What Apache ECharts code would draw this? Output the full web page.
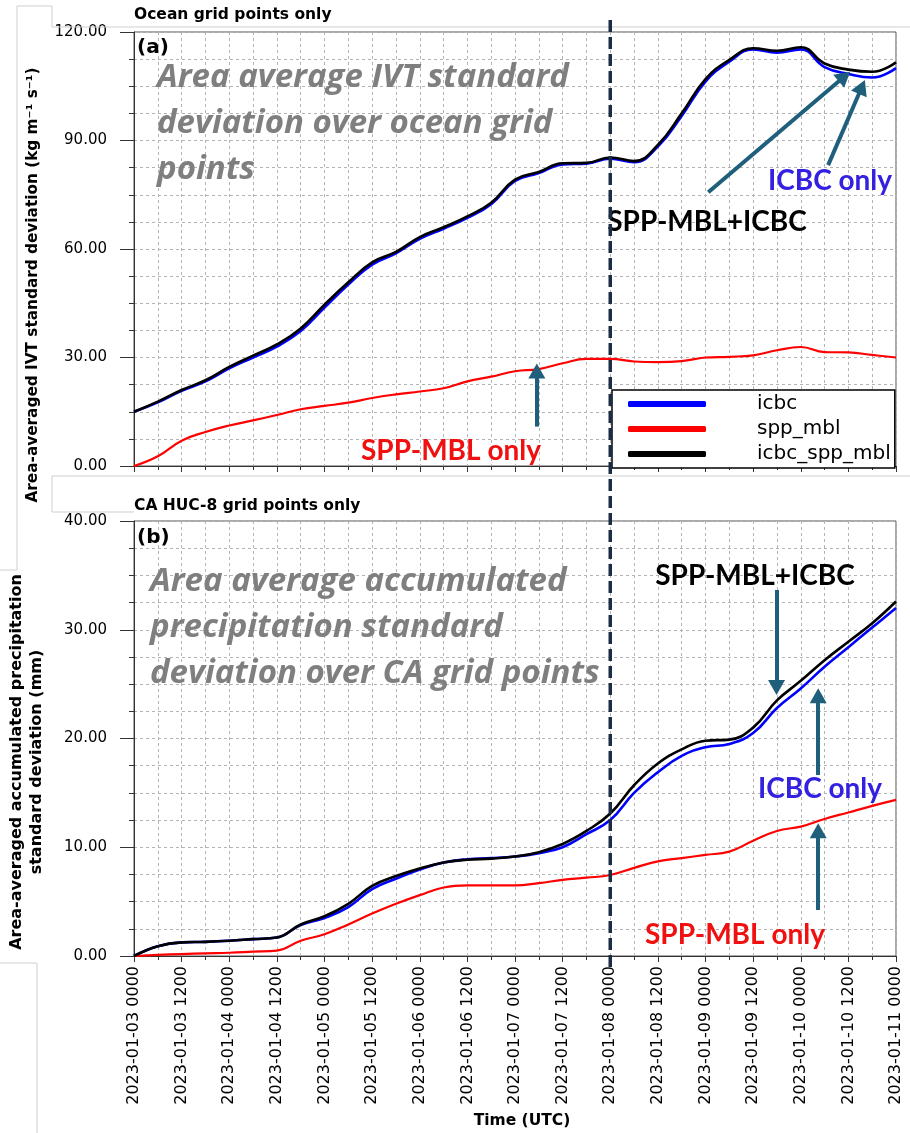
<!DOCTYPE html>
<html>
<head>
<meta charset="utf-8">
<script src="https://cdn.jsdelivr.net/npm/echarts@6/dist/echarts.min.js"></script>
<style>
html,body{margin:0;padding:0;background:#fff;}
#chart{width:910px;height:1133px;}
</style>
</head>
<body>
<div id="chart"></div>
<script>
// Forecast hours since 2023-01-03 00 UTC (6-hourly output)
const hours = [0,6,12,18,24,30,36,42,48,54,60,66,72,78,84,90,96,102,108,114,120,126,132,138,144,150,156,162,168,174,180,186,192];

// x tick labels every 12 h
const timeLabels = [
  '2023-01-03 0000','2023-01-03 1200','2023-01-04 0000','2023-01-04 1200',
  '2023-01-05 0000','2023-01-05 1200','2023-01-06 0000','2023-01-06 1200',
  '2023-01-07 0000','2023-01-07 1200','2023-01-08 0000','2023-01-08 1200',
  '2023-01-09 0000','2023-01-09 1200','2023-01-10 0000','2023-01-10 1200',
  '2023-01-11 0000'
];

// (a) area-averaged IVT standard deviation, ocean grid points (kg m-1 s-1)
const ivtIcbc = [15.0,17.6,20.8,23.4,27.0,30.0,33.0,37.3,43.8,50.2,55.7,58.8,62.8,65.6,68.6,72.4,78.8,81.0,83.4,83.6,85.0,84.0,88.3,96.8,106.3,111.8,115.2,114.3,115.2,110.3,108.4,107.4,110.0];
const ivtSppMbl = [0.0,2.7,7.0,9.4,11.2,12.6,14.1,15.7,16.6,17.5,18.8,19.8,20.6,21.5,23.4,24.7,26.2,26.8,28.4,29.6,29.6,28.9,28.7,29.0,30.0,30.2,30.6,32.0,32.9,31.5,31.4,30.7,30.0];
const ivtIcbcSppMbl = [15.0,17.8,21.0,23.7,27.4,30.5,33.6,38.0,44.6,50.8,56.3,59.2,63.3,66.0,69.0,72.8,79.2,81.3,83.7,83.8,85.3,84.3,88.8,97.5,107.0,112.3,115.5,114.8,115.8,111.3,109.6,109.0,111.6];

// (b) area-averaged accumulated precipitation standard deviation, CA HUC-8 grid points (mm)
const prIcbc = [0.0,0.9,1.25,1.3,1.4,1.55,1.7,2.85,3.5,4.5,6.15,7.1,7.95,8.6,8.9,9.0,9.15,9.45,10.0,11.2,12.5,15.0,16.9,18.4,19.2,19.5,20.5,22.8,24.6,26.6,28.4,30.2,32.0];
const prSppMbl = [0.0,0.1,0.18,0.25,0.3,0.4,0.5,1.4,2.0,2.9,3.9,4.8,5.6,6.3,6.5,6.5,6.5,6.7,7.0,7.2,7.45,8.1,8.7,9.0,9.3,9.6,10.6,11.5,11.9,12.6,13.2,13.8,14.35];
const prIcbcSppMbl = [0.0,0.9,1.25,1.3,1.4,1.55,1.7,2.9,3.65,4.8,6.45,7.35,8.05,8.6,8.85,8.95,9.15,9.55,10.3,11.5,13.1,15.7,17.7,19.0,19.8,19.9,21.0,23.5,25.3,27.2,28.9,30.6,32.6];

// Time of the vertical marker (2023-01-08 00 UTC)
const markerHour = 120;

// Annotation arrows: [[hour, value] tail, [hour, value] head]
const arrowsA = [
  [[144.7, 75.7], [179.0, 107.7]],
  [[174.9, 83.2], [183.4, 104.8]],
  [[101.5, 10.9], [101.5, 26.3]]
];
const arrowsB = [
  [[161.9, 33.66], [161.9, 24.69]],
  [[172.4, 16.64], [172.4, 23.93]],
  [[172.4, 4.23], [172.4, 11.51]]
];

const pair = (vals) => hours.map((h, i) => [h, vals[i]]);

const chart = echarts.init(document.getElementById('chart'), null, {renderer: 'canvas'});

const gridLine = {show: true, lineStyle: {color: '#b4b4b4', width: 1, type: [3, 3]}};
const axisInk = '#333';

function xAxisFor(gi, showLabels) {
  return {
    type: 'value', gridIndex: gi, min: 0, max: 192, interval: 12,
    axisLine: {show: true, onZero: false, lineStyle: {color: axisInk, width: 1}},
    axisTick: {show: true, length: 6, lineStyle: {color: axisInk}},
    minorTick: {show: true, splitNumber: 2, length: 4, lineStyle: {color: axisInk}},
    splitLine: gridLine,
    minorSplitLine: gridLine,
    axisLabel: showLabels ? {
      show: true, rotate: 90, margin: 10,
      fontFamily: 'DejaVu Sans', fontSize: 16, color: '#000',
      formatter: (v) => timeLabels[Math.round(v / 12)]
    } : {show: false}
  };
}

function yAxisFor(gi, max, interval) {
  return {
    type: 'value', gridIndex: gi, min: 0, max: max, interval: interval,
    axisLine: {show: true, lineStyle: {color: axisInk, width: 1}},
    axisTick: {show: true, length: 14, lineStyle: {color: axisInk}},
    minorTick: {show: true, splitNumber: 4, length: 5, lineStyle: {color: axisInk}},
    splitLine: gridLine,
    minorSplitLine: gridLine,
    axisLabel: {
      show: true, margin: 27, fontFamily: 'DejaVu Sans', fontSize: 15, color: '#000',
      formatter: (v) => v.toFixed(2)
    }
  };
}

function lineSeries(name, gi, vals, color, width, z) {
  return {
    type: 'line', name: name, xAxisIndex: gi, yAxisIndex: gi,
    data: pair(vals), showSymbol: false, symbol: 'none',
    smooth: 0.45,
    lineStyle: {color: color, width: width}, itemStyle: {color: color},
    z: z, animation: false
  };
}

function arrowMarks(list) {
  return {
    silent: true, animation: false,
    symbol: ['none', 'triangle'], symbolSize: [17, 15],
    label: {show: false},
    lineStyle: {color: '#1f5f7b', width: 4, type: 'solid'},
    itemStyle: {color: '#1f5f7b'},
    emphasis: {disabled: true},
    data: list.map(a => [{coord: a[0]}, {coord: a[1]}])
  };
}

const sA = lineSeries('icbc_spp_mbl', 0, ivtIcbcSppMbl, '#000000', 2.6, 4);
sA.markLine = arrowMarks(arrowsA);
const sB = lineSeries('icbc_spp_mbl', 1, prIcbcSppMbl, '#000000', 2.6, 4);
sB.markLine = arrowMarks(arrowsB);

chart.setOption({
  animation: false,
  backgroundColor: '#ffffff',
  grid: [
    {left: 134, top: 32, width: 762, height: 434, show: true, borderColor: '#555', borderWidth: 1, backgroundColor: '#fff'},
    {left: 134, top: 521, width: 762, height: 435, show: true, borderColor: '#555', borderWidth: 1, backgroundColor: '#fff'}
  ],
  xAxis: [xAxisFor(0, false), xAxisFor(1, true)],
  yAxis: [yAxisFor(0, 120, 30), yAxisFor(1, 40, 10)],
  legend: {
    show: true, orient: 'vertical', left: 612, top: 390,
    data: ['icbc', 'spp_mbl', 'icbc_spp_mbl'],
    backgroundColor: '#fff', borderColor: '#000', borderWidth: 1.5, borderRadius: 0,
    padding: [4, 4, 4, 16], itemGap: 5,
    itemWidth: 78, itemHeight: 6, icon: 'roundRect',
    textStyle: {fontFamily: 'DejaVu Sans', fontSize: 20, lineHeight: 20, color: '#000', padding: [0, 0, 0, 46]},
    selectedMode: false, z: 10
  },
  series: [
    lineSeries('icbc', 0, ivtIcbc, '#0000ff', 2.6, 2),
    lineSeries('spp_mbl', 0, ivtSppMbl, '#ff0000', 2.2, 3),
    sA,
    lineSeries('icbc', 1, prIcbc, '#0000ff', 2.6, 2),
    lineSeries('spp_mbl', 1, prSppMbl, '#ff0000', 2.2, 3),
    sB
  ]
});

// Place the vertical marker through both panels using the axis scale
const markerX = chart.convertToPixel({xAxisIndex: 0}, markerHour);

const boxInk = '#cfcfcf';
const frame = (x1, y1, x2, y2) => ({
  type: 'line', silent: true, z: 1,
  shape: {x1: x1, y1: y1, x2: x2, y2: y2},
  style: {stroke: boxInk, lineWidth: 1}
});
const txt = (text, x, y, font, fill, align, extra) => Object.assign({
  type: 'text', silent: true, z: 20, x: x, y: y,
  style: {text: text, font: font, fill: fill, align: align || 'left', verticalAlign: 'middle'}
}, extra || {});

const noteFont = 'bold 28px Lato';
const bigFont = 'italic bold 33px "Open Sans"';

chart.setOption({
  graphic: {
    elements: [
      // panel frames
      frame(17, 6, 52, 6), frame(52, 6, 52, 27), frame(52, 27, 910, 27),
      frame(17, 6, 17, 570), frame(0, 570, 17, 570),
      frame(52, 476, 910, 476), frame(52, 476, 52, 512), frame(52, 512, 134, 512),
      frame(0, 963, 37, 963), frame(37, 963, 37, 1133),

      // panel titles
      txt('Ocean grid points only', 134, 15, 'bold 15.5px "DejaVu Sans"', '#000'),
      txt('CA HUC-8 grid points only', 134, 506, 'bold 15.5px "DejaVu Sans"', '#000'),
      txt('(a)', 137, 48, 'bold 20px "DejaVu Sans"', '#000'),
      txt('(b)', 137, 538, 'bold 20px "DejaVu Sans"', '#000'),

      // axis titles
      txt('Area-averaged IVT standard deviation (kg m\u207B\u00B9 s\u207B\u00B9)', 33, 285,
          'bold 15.3px "DejaVu Sans"', '#000', 'center', {rotation: Math.PI / 2}),
      {
        type: 'text', silent: true, z: 20, x: 27, y: 762, rotation: Math.PI / 2,
        style: {text: 'Area-averaged accumulated precipitation\nstandard deviation (mm)',
                font: 'bold 16px "DejaVu Sans"', fill: '#000', align: 'center',
                verticalAlign: 'middle', lineHeight: 20}
      },
      txt('Time (UTC)', 522, 1121, 'bold 15.5px "DejaVu Sans"', '#000', 'center'),

      // panel descriptions
      {
        type: 'text', silent: true, z: 5, x: 157, y: 55,
        style: {text: 'Area average IVT standard\ndeviation over ocean grid\npoints',
                font: bigFont, fill: '#7f7f7f', align: 'left', verticalAlign: 'top', lineHeight: 46}
      },
      {
        type: 'text', silent: true, z: 5, x: 150, y: 559,
        style: {text: 'Area average accumulated\nprecipitation standard\ndeviation over CA grid points',
                font: bigFont, fill: '#7f7f7f', align: 'left', verticalAlign: 'top', lineHeight: 46}
      },

      // run labels
      txt('SPP-MBL+ICBC', 707, 222, noteFont, '#000', 'center'),
      txt('ICBC only', 830, 181, noteFont, '#3320e0', 'center'),
      txt('SPP-MBL only', 451, 451, noteFont, '#f01010', 'center'),
      txt('SPP-MBL+ICBC', 755, 576, noteFont, '#000', 'center'),
      txt('ICBC only', 820, 789, noteFont, '#3320e0', 'center'),
      txt('SPP-MBL only', 735, 935, noteFont, '#f01010', 'center'),

      // 2023-01-08 00 UTC marker
      {
        type: 'line', silent: true, z: 30,
        shape: {x1: markerX, y1: 20, x2: markerX, y2: 972},
        style: {stroke: '#1b2d45', lineWidth: 3.5, lineDash: [12, 5]}
      }
    ]
  }
});
</script>
</body>
</html>
